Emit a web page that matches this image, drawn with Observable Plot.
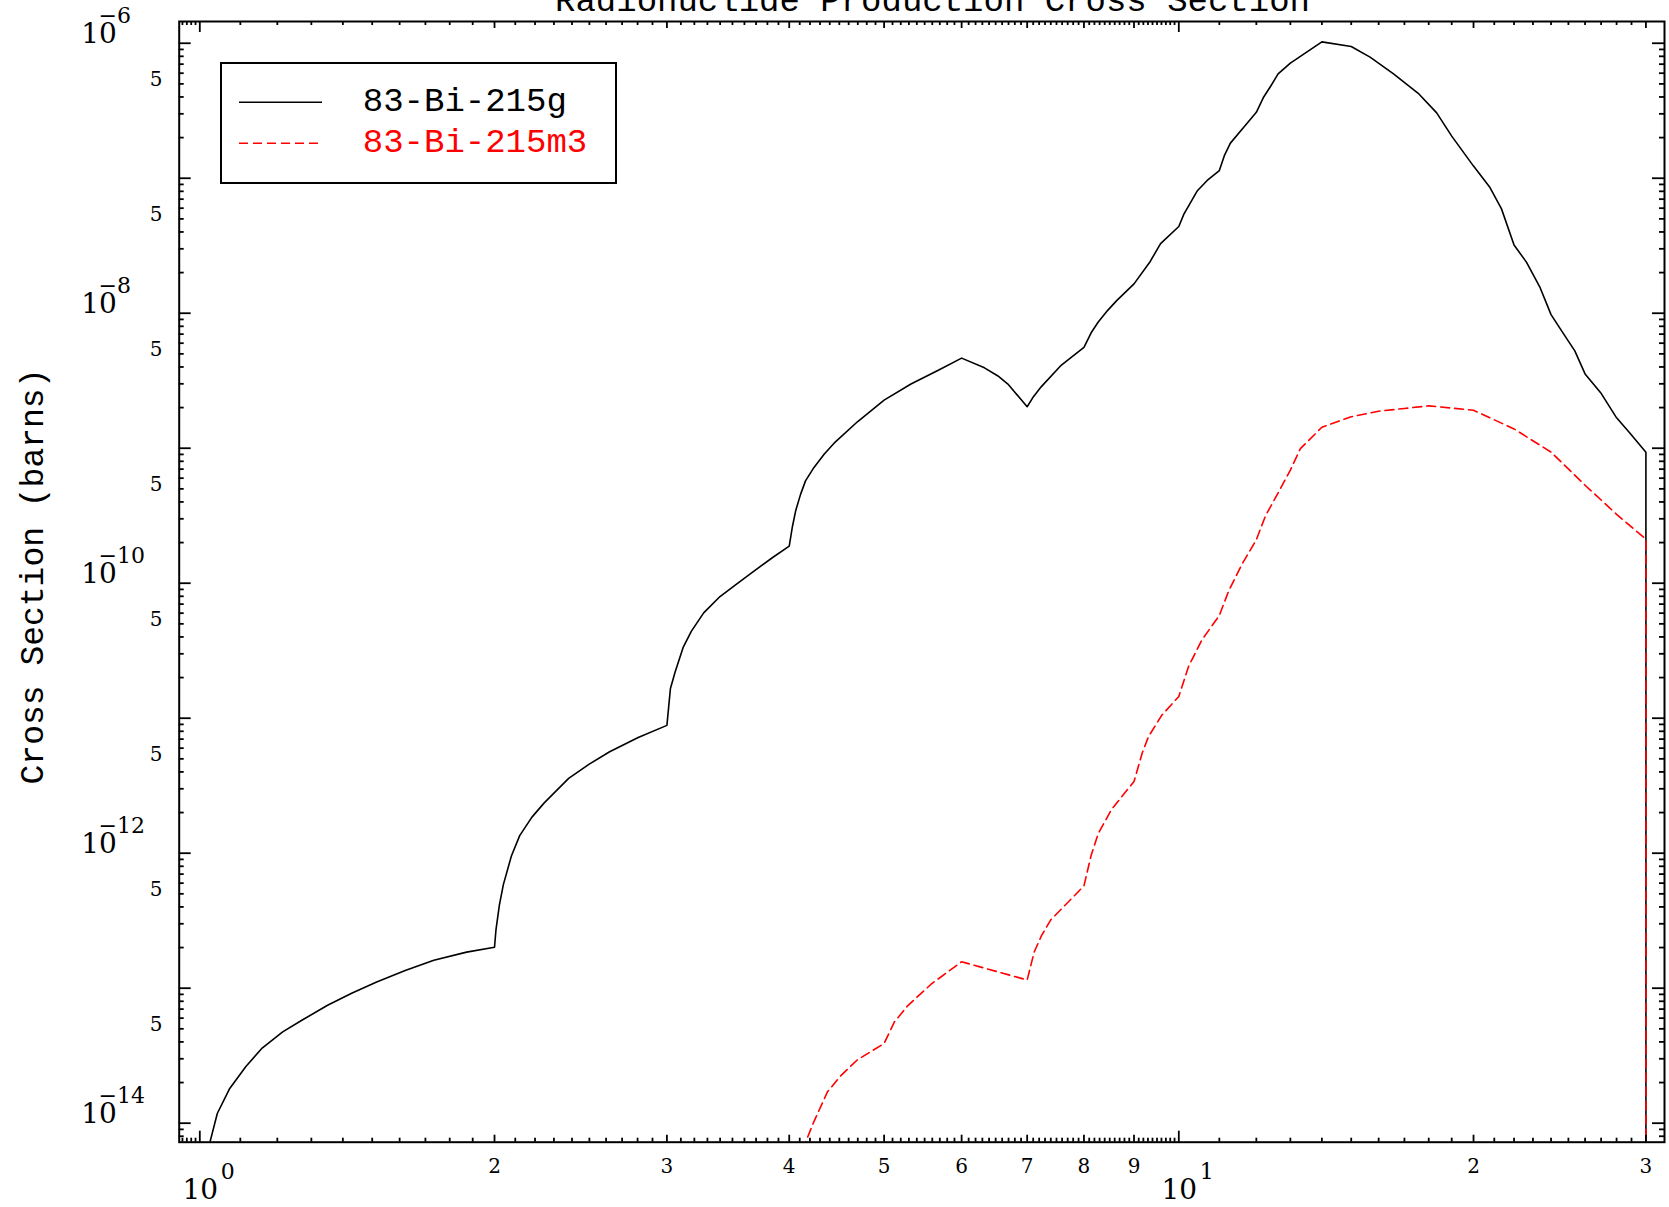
<!DOCTYPE html>
<html><head><meta charset="utf-8">
<script src="https://cdn.jsdelivr.net/npm/d3@7"></script>
<script src="https://cdn.jsdelivr.net/npm/@observablehq/plot@0.6"></script>
<style>
html,body{margin:0;padding:0;background:#fff;}
#wrap{position:relative;width:1669px;height:1207px;overflow:hidden;background:#fff;}
#legend{position:absolute;left:220px;top:62px;}
</style></head><body><div id="wrap"></div>
<script>
// ---- data (energy in MeV, cross section in barns) ----
const energyG = [1.0, 1.024, 1.042, 1.072, 1.1145, 1.158, 1.2152, 1.275, 1.3506, 1.431, 1.5158, 1.621, 1.734, 1.873, 2.0,
  2.007, 2.023, 2.042, 2.081, 2.122, 2.184, 2.248, 2.381, 2.499, 2.622, 2.804, 3.0,
  3.014, 3.025, 3.058, 3.116, 3.177, 3.271, 3.399, 3.531, 3.670, 3.847, 4.0,
  4.030, 4.062, 4.108, 4.156, 4.240, 4.344, 4.445, 4.696, 5.0, 5.326, 5.673, 6.0,
  6.331, 6.535, 6.690, 7.0, 7.107, 7.238, 7.587, 8.0, 8.137, 8.274, 8.46, 8.64, 9.0,
  9.35, 9.58, 10.0, 10.12, 10.44, 10.69, 11.0, 11.13, 11.29, 11.65, 12.0, 12.21, 12.41, 12.63, 13.0, 13.52, 14.0,
  15.0, 15.68, 16.57, 17.56, 18.34, 19.0, 20.0, 20.79, 21.36, 22.0, 22.65, 23.37, 24.0, 24.69,
  25.38, 26.0, 27.01, 28.0, 28.87, 30.0, 30.0];
const xsG = [3e-15, 7.2e-15, 1.18e-14, 1.79e-14, 2.63e-14, 3.6e-14, 4.75e-14, 5.86e-14, 7.48e-14, 9.21e-14, 1.11e-13, 1.35e-13, 1.61e-13, 1.85e-13, 2.01e-13,
  2.72e-13, 4.13e-13, 5.85e-13, 9.53e-13, 1.35e-12, 1.85e-12, 2.36e-12, 3.58e-12, 4.57e-12, 5.64e-12, 7.19e-12, 8.85e-12,
  1.26e-11, 1.66e-11, 2.19e-11, 3.33e-11, 4.4e-11, 6.03e-11, 7.97e-11, 9.82e-11, 1.21e-10, 1.55e-10, 1.88e-10,
  2.62e-10, 3.46e-10, 4.55e-10, 5.73e-10, 7.21e-10, 9.06e-10, 1.09e-9, 1.57e-9, 2.27e-9, 2.99e-9, 3.76e-9, 4.65e-9,
  3.94e-9, 3.43e-9, 2.99e-9, 2.03e-9, 2.42e-9, 2.86e-9, 4.13e-9, 5.59e-9, 7.16e-9, 8.61e-9, 1.05e-8, 1.24e-8, 1.65e-8,
  2.42e-8, 3.28e-8, 4.39e-8, 5.42e-8, 8.04e-8, 9.63e-8, 1.14e-7, 1.47e-7, 1.82e-7, 2.39e-7, 3.08e-7, 4.0e-7, 4.80e-7, 5.93e-7, 7.12e-7, 8.64e-7, 1.024e-6,
  9.47e-7, 7.89e-7, 5.93e-7, 4.26e-7, 3.05e-7, 2.05e-7, 1.23e-7, 8.53e-8, 5.93e-8, 3.20e-8, 2.39e-8, 1.57e-8, 9.77e-9, 7.12e-9,
  5.26e-9, 3.55e-9, 2.54e-9, 1.68e-9, 1.30e-9, 9.35e-10, 1e-16];
const energyM = [4.1, 4.156, 4.240, 4.375, 4.514, 4.696, 5.0, 5.121, 5.284, 5.584, 6.0, 7.0, 7.116, 7.238, 7.400, 7.587, 8.0,
  8.137, 8.274, 8.537, 9.0, 9.177, 9.311, 9.605, 10.0, 10.23, 10.56, 11.0, 11.24, 11.60, 12.0,
  12.26, 12.65, 13.0, 13.31, 14.0, 15.0, 16.0, 17.0, 18.0, 20.0, 22.0, 24.0,
  26.0, 28.0, 30.0, 30.0];
const xsM = [5e-15, 7.2e-15, 1.03e-14, 1.70e-14, 2.24e-14, 2.95e-14, 3.89e-14, 5.61e-14, 7.4e-14, 1.07e-13, 1.57e-13, 1.15e-13, 1.85e-13, 2.44e-13, 3.21e-13, 3.86e-13, 5.73e-13,
  9.66e-13, 1.40e-12, 2.11e-12, 3.40e-12, 5.54e-12, 7.3e-12, 1.05e-11, 1.45e-11, 2.41e-11, 3.81e-11, 5.77e-11, 8.71e-11, 1.38e-10, 2.1e-10,
  3.15e-10, 4.76e-10, 6.89e-10, 9.93e-10, 1.43e-9, 1.71e-9, 1.88e-9, 1.97e-9, 2.06e-9, 1.91e-9, 1.39e-9, 9.35e-10,
  5.32e-10, 3.24e-10, 2.12e-10, 1e-16];
const seriesNames = ["83-Bi-215g", "83-Bi-215m3"];
const seriesColors = ["#000000", "#ff0000"];
const titleText = "Radionuclide Production Cross Section";
const yLabelText = "Cross Section (barns)";
const xDecades = [1, 10];
const xDecadeExp = ["0", "1"];
const xDigitTicks = [2, 3, 4, 5, 6, 7, 8, 9, 20, 30];
const xDigitLabels = ["2", "3", "4", "5", "6", "7", "8", "9", "2", "3"];
const yDecadeLabeled = [1e-6, 1e-8, 1e-10, 1e-12, 1e-14];
const yDecadeExp = ["−6", "−8", "−10", "−12", "−14"];
const yFiveTicks = [5e-7, 5e-8, 5e-9, 5e-10, 5e-11, 5e-12, 5e-13, 5e-14];

// ---- layout ----
const W = 1669, H = 1207;
const mL = 178.7, mR = 5, mT = 21, mB = 65.3;
const fH = H - mT - mB, fW = W - mL - mR;
const cx = mL + fW / 2, cy = mT + fH / 2;
const xDomain = [0.9527, 31.34], yDomain = [7.23e-15, 1.449e-6];

// tick positions
const xSmall = [];
for (const k of [96, 97, 98, 99]) xSmall.push(k / 100);
for (let i = 11; i < 100; i++) if (i % 10 !== 0) xSmall.push(i / 10);
for (let i = 11; i < 30; i++) if (i % 10 !== 0) xSmall.push(i);
const yMajor = [], yMinor = [];
for (let e = -14; e <= -6; e++) yMajor.push(Math.pow(10, e));
for (let e = -15; e <= -7; e++) for (let k = 2; k <= 9; k++) {
  const v = k * Math.pow(10, e);
  if (v >= yDomain[0] && v <= yDomain[1]) yMinor.push(v);
}

const dataG = energyG.map((e, i) => ({e, s: xsG[i]}));
const dataM = energyM.map((e, i) => ({e, s: xsM[i]}));

const tickStyle = {stroke: "#000", strokeWidth: 1.8};
const serif = "DejaVu Serif";
const mono = "Liberation Mono";

const plot = Plot.plot({
  width: W, height: H,
  marginLeft: mL, marginRight: mR, marginTop: mT, marginBottom: mB,
  x: {type: "log", domain: xDomain, axis: null},
  y: {type: "log", domain: yDomain, axis: null},
  style: {background: "white", overflow: "visible"},
  marks: [
    Plot.line(dataG, {x: "e", y: "s", stroke: seriesColors[0], strokeWidth: 1.6, clip: true}),
    Plot.line(dataM, {x: "e", y: "s", stroke: seriesColors[1], strokeWidth: 1.6, strokeDasharray: "9,5", clip: true}),
    // x ticks bottom & top
    Plot.tickX(xDecades, {x: d => d, insetTop: fH - 11, ...tickStyle}),
    Plot.tickX(xDecades, {x: d => d, insetBottom: fH - 11, ...tickStyle}),
    Plot.tickX(xDigitTicks, {x: d => d, insetTop: fH - 7, ...tickStyle}),
    Plot.tickX(xDigitTicks, {x: d => d, insetBottom: fH - 7, ...tickStyle}),
    Plot.tickX(xSmall, {x: d => d, insetTop: fH - 4, ...tickStyle}),
    Plot.tickX(xSmall, {x: d => d, insetBottom: fH - 4, ...tickStyle}),
    // y ticks left & right
    Plot.tickY(yMajor, {y: d => d, insetRight: fW - 12, ...tickStyle}),
    Plot.tickY(yMajor, {y: d => d, insetLeft: fW - 12, ...tickStyle}),
    Plot.tickY(yMinor, {y: d => d, insetRight: fW - 5, ...tickStyle}),
    Plot.tickY(yMinor, {y: d => d, insetLeft: fW - 5, ...tickStyle}),
    Plot.frame({stroke: "#000", strokeWidth: 2}),
    // x labels
    Plot.text(xDigitTicks, {x: d => d, text: (d, i) => xDigitLabels[i], frameAnchor: "bottom", dy: 30.3, lineAnchor: "bottom", textAnchor: "middle", fontSize: 20, fontFamily: serif, fill: "#000"}),
    Plot.text(xDecades, {x: d => d, text: () => "10", frameAnchor: "bottom", dy: 56.3, dx: 0.5, lineAnchor: "bottom", textAnchor: "middle", fontSize: 28, fontFamily: serif, fill: "#000"}),
    Plot.text(xDecades, {x: d => d, text: (d, i) => xDecadeExp[i], frameAnchor: "bottom", dy: 36.3, dx: 21, textAnchor: "start", lineAnchor: "bottom", fontSize: 22, fontFamily: serif, fill: "#000"}),
    // y labels
    Plot.text(yDecadeLabeled, {y: d => d, text: () => "10", frameAnchor: "left", dx: -98, textAnchor: "start", lineAnchor: "bottom", fontSize: 28, fontFamily: serif, fill: "#000"}),
    Plot.text(yDecadeLabeled, {y: d => d, text: (d, i) => yDecadeExp[i], frameAnchor: "left", dx: -80.7, dy: -20, textAnchor: "start", lineAnchor: "bottom", fontSize: 22, fontFamily: serif, fill: "#000"}),
    Plot.text(yFiveTicks, {y: d => d, text: () => "5", frameAnchor: "left", dx: -16.7, dy: 2, textAnchor: "end", lineAnchor: "bottom", fontSize: 20, fontFamily: serif, fill: "#000"}),
    // title and axis label
    Plot.text([titleText], {text: d => d, frameAnchor: "top", dx: 932 - cx, dy: 10 - mT, lineAnchor: "bottom", textAnchor: "middle", fontSize: 34, fontFamily: mono, fill: "#000"}),
    Plot.text([yLabelText], {text: d => d, frameAnchor: "left", rotate: -90, dx: 32 - mL, dy: 576 - cy, lineAnchor: "middle", textAnchor: "middle", fontSize: 33, fontFamily: mono, fill: "#000"})
  ]
});
const wrap = document.getElementById("wrap");
wrap.appendChild(plot);

// legend box inside the frame
const ns = "http://www.w3.org/2000/svg";
const lg = document.createElementNS(ns, "svg");
lg.setAttribute("id", "legend");
lg.setAttribute("width", 397); lg.setAttribute("height", 122);
const rect = document.createElementNS(ns, "rect");
rect.setAttribute("x", 1); rect.setAttribute("y", 1);
rect.setAttribute("width", 395); rect.setAttribute("height", 120);
rect.setAttribute("fill", "#fff"); rect.setAttribute("stroke", "#000"); rect.setAttribute("stroke-width", 2);
lg.appendChild(rect);
seriesNames.forEach((name, i) => {
  const ly = 40.3 + i * 41;
  const ln = document.createElementNS(ns, "line");
  ln.setAttribute("x1", 19); ln.setAttribute("x2", 102);
  ln.setAttribute("y1", ly); ln.setAttribute("y2", ly);
  ln.setAttribute("stroke", seriesColors[i]); ln.setAttribute("stroke-width", 1.5);
  if (i === 1) ln.setAttribute("stroke-dasharray", "9,5");
  lg.appendChild(ln);
  const tx = document.createElementNS(ns, "text");
  tx.setAttribute("x", 142.8); tx.setAttribute("y", ly + 9);
  tx.setAttribute("fill", seriesColors[i]);
  tx.setAttribute("font-family", mono); tx.setAttribute("font-size", 34);
  tx.textContent = name;
  lg.appendChild(tx);
});
wrap.appendChild(lg);
</script></body></html>
